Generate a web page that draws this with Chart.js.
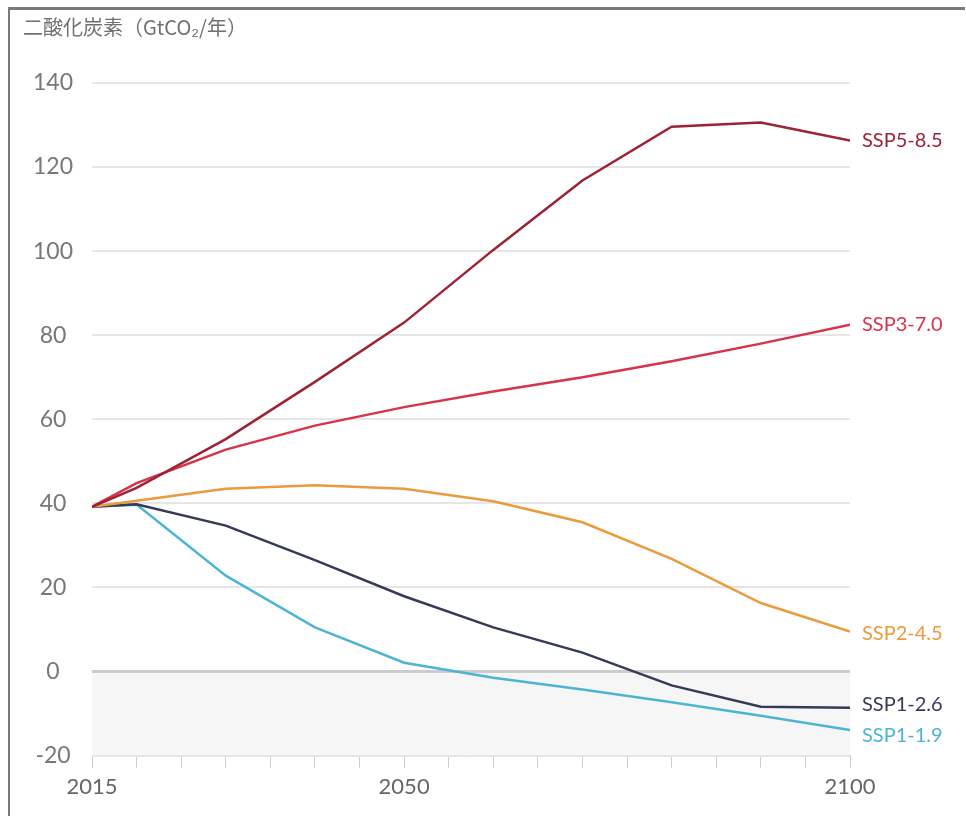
<!DOCTYPE html>
<html>
<head>
<meta charset="utf-8">
<script src="https://cdn.jsdelivr.net/npm/chart.js@4.4.0/dist/chart.umd.min.js"></script>
<style>
    html, body { margin: 0; padding: 0; background: #fff; }
    #wrap { position: relative; width: 966px; height: 816px; }
    #frame {
        position: absolute; left: 8px; top: 7px; right: 1px; bottom: 0;
        border-top: 3px solid #7a7a7a; border-left: 2px solid #7a7a7a;
        pointer-events: none;
    }
    canvas { position: absolute; left: 0; top: 0; }
</style>
</head>
<body>
<div id="wrap">
    <canvas id="co2-chart" width="966" height="816"></canvas>
    <div id="frame"></div>
</div>
<script>
// 年
const years = [2015, 2020, 2030, 2040, 2050, 2060, 2070, 2080, 2090, 2100];

// シナリオ別 CO2 排出量 (GtCO2/年)
const ssp585 = [39.2, 43.7, 55.3, 68.9, 83.0, 100.3, 116.8, 129.6, 130.6, 126.3];
const ssp370 = [39.2, 44.8, 52.8, 58.5, 62.9, 66.6, 70.0, 73.8, 78.0, 82.5];
const ssp245 = [39.2, 40.6, 43.5, 44.3, 43.5, 40.5, 35.5, 26.8, 16.3, 9.5];
const ssp126 = [39.2, 39.8, 34.7, 26.5, 17.9, 10.5, 4.5, -3.3, -8.4, -8.6];
const ssp119 = [39.2, 39.7, 22.8, 10.5, 2.1, -1.5, -4.3, -7.3, -10.5, -13.9];

const seriesNames = ['SSP5-8.5', 'SSP3-7.0', 'SSP2-4.5', 'SSP1-2.6', 'SSP1-1.9'];
const seriesValues = [ssp585, ssp370, ssp245, ssp126, ssp119];
const seriesColors = ['#9e2235', '#d8334a', '#ec9a3e', '#353a57', '#4db4d4'];
const labelOffsets = [0, 0, 2, -3, 6];

// 目盛り
const xLabelYears = [2015, 2050, 2100];
const yMin = -20, yMax = 140, yStep = 20;

// 0 未満の領域を灰色で塗る
const negativeShade = {
    id: 'negativeShade',
    beforeDatasetsDraw(chart) {
        const { ctx, chartArea, scales } = chart;
        const y0 = scales.y.getPixelForValue(0);
        ctx.save();
        ctx.fillStyle = '#f6f6f6';
        ctx.fillRect(chartArea.left, y0, chartArea.right - chartArea.left, chartArea.bottom - y0);
        ctx.strokeStyle = '#cccccc';
        ctx.lineWidth = 3;
        ctx.beginPath();
        ctx.moveTo(chartArea.left, y0);
        ctx.lineTo(chartArea.right, y0);
        ctx.stroke();
        ctx.restore();
    }
};

// 線の右端にシナリオ名
const endLabels = {
    id: 'endLabels',
    afterDatasetsDraw(chart) {
        const { ctx } = chart;
        ctx.save();
        ctx.font = '20px Lato, sans-serif';
        ctx.textAlign = 'left';
        ctx.textBaseline = 'middle';
        chart.data.datasets.forEach((ds, i) => {
            const meta = chart.getDatasetMeta(i);
            const last = meta.data[meta.data.length - 1];
            ctx.fillStyle = ds.borderColor;
            ctx.fillText(ds.label, last.x + 12, last.y + labelOffsets[i]);
        });
        ctx.restore();
    }
};

new Chart(document.getElementById('co2-chart'), {
    type: 'line',
    data: {
        datasets: seriesNames.map((name, i) => ({
            label: name,
            data: years.map((yr, j) => ({ x: yr, y: seriesValues[i][j] })),
            borderColor: seriesColors[i],
            borderWidth: 2.5,
            pointRadius: 0,
            tension: 0,
            fill: false
        }))
    },
    options: {
        responsive: false,
        animation: false,
        layout: { padding: { left: 23, right: 116, top: 10, bottom: 10 } },
        scales: {
            x: {
                type: 'linear',
                min: 2015,
                max: 2100,
                border: { display: true, color: '#cccccc', width: 1 },
                grid: {
                    drawOnChartArea: false,
                    drawTicks: true,
                    tickLength: 12,
                    color: '#cccccc'
                },
                ticks: {
                    stepSize: 5,
                    autoSkip: false,
                    maxRotation: 0,
                    padding: 6,
                    color: '#666666',
                    font: { family: 'Lato, sans-serif', size: 22 },
                    callback: function(value) {
                        return xLabelYears.includes(value) ? String(value) : '';
                    }
                }
            },
            y: {
                min: yMin,
                max: yMax,
                border: { display: false },
                grid: {
                    color: function(c) { return c.tick.value === 0 ? 'rgba(0,0,0,0)' : '#e6e6e6'; },
                    lineWidth: 2,
                    drawTicks: false
                },
                afterFit: function(scale) { scale.width = 69; },
                ticks: {
                    stepSize: yStep,
                    crossAlign: 'center',
                    padding: 19,
                    color: '#777777',
                    font: { family: 'Lato, sans-serif', size: 23 },
                    callback: function(value) {
                        return value < 0 ? '-' + Math.abs(value) : String(value);
                    }
                }
            }
        },
        plugins: {
            legend: { display: false },
            tooltip: { enabled: false },
            title: {
                display: true,
                text: '二酸化炭素（GtCO₂/年）',
                align: 'start',
                color: '#707070',
                font: { family: '"Noto Sans CJK JP", sans-serif', size: 20, weight: 'normal' },
                padding: { top: 5, bottom: 44 }
            }
        }
    },
    plugins: [negativeShade, endLabels]
});
</script>
</body>
</html>
